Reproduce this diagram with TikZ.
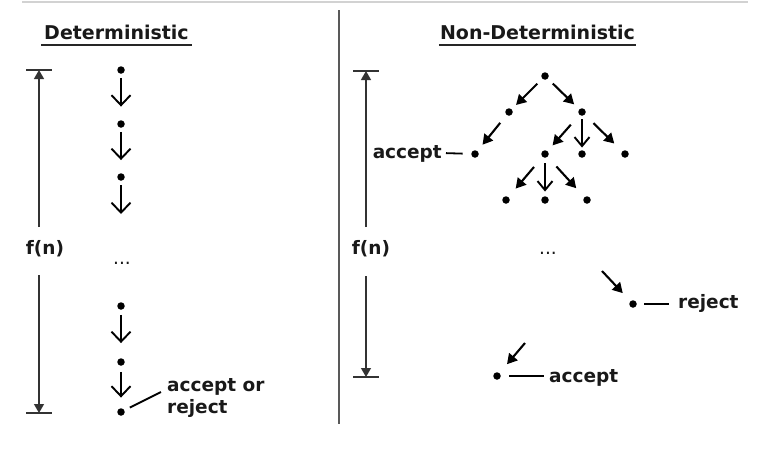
\documentclass[tikz,border=0pt]{standalone}
\usepackage{fontspec}
\setmainfont{DejaVu Sans}
\usetikzlibrary{arrows.meta}
\begin{document}
\begin{tikzpicture}[x=1pt,y=-1pt,
  dot/.style={circle,fill=black,inner sep=0pt,minimum size=7.5pt},
  lbl/.style={font=\fontsize{18.5}{22}\selectfont\bfseries,inner sep=0pt,text=black!90},
  ell/.style={font=\fontsize{18.5}{22}\selectfont,inner sep=0pt,text=black!90},
  ttl/.style={font=\fontsize{19}{22}\selectfont\bfseries,inner sep=0pt,text=black!90},
  barb/.style={line width=1.9pt,-{Straight Barb[length=10pt,width=19pt]}},
  tbarb/.style={line width=1.9pt,-{Straight Barb[length=9pt,width=15pt]}},
  tarr/.style={line width=2.1pt,-{Triangle[length=10pt,width=11pt]}},
  farr/.style={line width=1.3pt,draw=black!80,-{Triangle[length=9pt,width=10pt]}},
  bar/.style={line width=1.5pt,draw=black!80},
  conn/.style={line width=1.8pt},
  uline/.style={line width=2pt,draw=black!85}
]
\useasboundingbox (0,0) rectangle (772,458);

% frame lines
\coordinate (tl) at (22,2);
\coordinate (tr) at (748,2);
\draw[line width=1.5pt,draw=gray!35] (tl) -- (tr);
\coordinate (dv1) at (339,10);
\coordinate (dv2) at (339,424);
\draw[line width=1.5pt,draw=black!65] (dv1) -- (dv2);

% titles
\node[ttl,anchor=base] (t1) at (116.5,39) {Deterministic};
\draw[uline] ([xshift=-3pt,yshift=-5.5pt]t1.base west) -- ([xshift=3pt,yshift=-5.5pt]t1.base east);
\node[ttl,anchor=base] (t2) at (537.5,39) {Non-Deterministic};
\draw[uline] ([xshift=-1pt,yshift=-6pt]t2.base west) -- ([xshift=1pt,yshift=-6pt]t2.base east);

% left f(n)
\coordinate (lt) at (39,70);
\coordinate (lb) at (39,413);
\coordinate (la1) at (39,227);
\coordinate (la2) at (39,275);
\draw[farr] (la1) -- (lt);
\draw[farr] (la2) -- (lb);
\draw[bar] ([xshift=-13pt]lt) -- ([xshift=13pt]lt);
\draw[bar] ([xshift=-13pt]lb) -- ([xshift=13pt]lb);
\node[lbl,anchor=base] (fnL) at (45,254) {f(n)};

% right f(n)
\coordinate (rt) at (366,71);
\coordinate (rb) at (366,377);
\coordinate (ra1) at (366,227);
\coordinate (ra2) at (366,276);
\draw[farr] (ra1) -- (rt);
\draw[farr] (ra2) -- (rb);
\draw[bar] ([xshift=-13pt]rt) -- ([xshift=13pt]rt);
\draw[bar] ([xshift=-13pt]rb) -- ([xshift=13pt]rb);
\node[lbl,anchor=base] (fnR) at (371,254) {f(n)};

% deterministic chain
\node[dot] (c1) at (121,70) {};
\node[dot] (c2) at (121,124) {};
\node[dot] (c3) at (121,177) {};
\coordinate (c3e) at (121,214);
\node[ell,anchor=base] (dl) at (122,264) {...};
\node[dot] (c4) at (121,306) {};
\node[dot] (c5) at (121,362) {};
\node[dot] (c6) at (121,412) {};
\draw[barb,shorten <=4pt,shorten >=13.5pt] (c1) -- (c2);
\draw[barb,shorten <=4pt,shorten >=13pt] (c2) -- (c3);
\draw[barb,shorten <=4.5pt] (c3) -- (c3e);
\draw[barb,shorten <=5pt,shorten >=15pt] (c4) -- (c5);
\draw[barb,shorten <=6pt,shorten >=10.5pt] (c5) -- (c6);
\node[lbl,anchor=base west] (ao1) at (167,391) {accept or};
\node[lbl,anchor=base west] (ao2) at (167,413) {reject};
\coordinate (c6t) at (161,392);
\draw[conn,shorten <=6pt] (c6) -- (c6t);

% tree
\node[dot] (r) at (545,76) {};
\node[dot] (a) at (509,112) {};
\node[dot] (b) at (582,112) {};
\node[dot] (d2a) at (475,154) {};
\node[dot] (d2b) at (545,154) {};
\node[dot] (d2c) at (582,154) {};
\node[dot] (d2d) at (625,154) {};
\node[dot] (d3a) at (506,200) {};
\node[dot] (d3b) at (545,200) {};
\node[dot] (d3c) at (587,200) {};
\draw[tarr,shorten <=7pt,shorten >=6pt] (r) -- (a);
\draw[tarr,shorten <=7pt,shorten >=7pt] (r) -- (b);
\draw[tarr,shorten <=10pt,shorten >=8pt] (a) -- (d2a);
\draw[tarr,shorten <=13pt,shorten >=7.5pt] (b) -- (d2b);
\draw[tbarb,shorten <=3.5pt,shorten >=2.5pt] (b) -- (d2c);
\draw[tarr,shorten <=12pt,shorten >=11pt] (b) -- (d2d);
\draw[tarr,shorten <=13pt,shorten >=11pt] (d2b) -- (d3a);
\draw[tbarb,shorten <=5.5pt,shorten >=4.5pt] (d2b) -- (d3b);
\draw[tarr,shorten <=13pt,shorten >=12pt] (d2b) -- (d3c);

\node[lbl,anchor=base east] (accL) at (442,158) {accept};
\draw[conn,shorten <=4pt,shorten >=8.5pt] ([yshift=5pt]accL.base east) -- (d2a);

\node[ell,anchor=base] (dr) at (548,254) {...};

% reject
\node[dot] (rj) at (633,304) {};
\coordinate (rjs) at (602,271);
\draw[tarr,shorten >=11pt] (rjs) -- (rj);
\node[lbl,anchor=base west] (rjl) at (678,308) {reject};
\draw[conn,shorten <=7.5pt,shorten >=9pt] (rj) -- ([yshift=4pt]rjl.base west);

% accept
\node[dot] (ac) at (497,376) {};
\coordinate (acs) at (525,343);
\draw[tarr,shorten >=11.5pt] (acs) -- (ac);
\node[lbl,anchor=base west] (acl) at (549,382) {accept};
\draw[conn,shorten <=8.5pt,shorten >=5pt] (ac) -- ([yshift=6pt]acl.base west);
\end{tikzpicture}
\end{document}
